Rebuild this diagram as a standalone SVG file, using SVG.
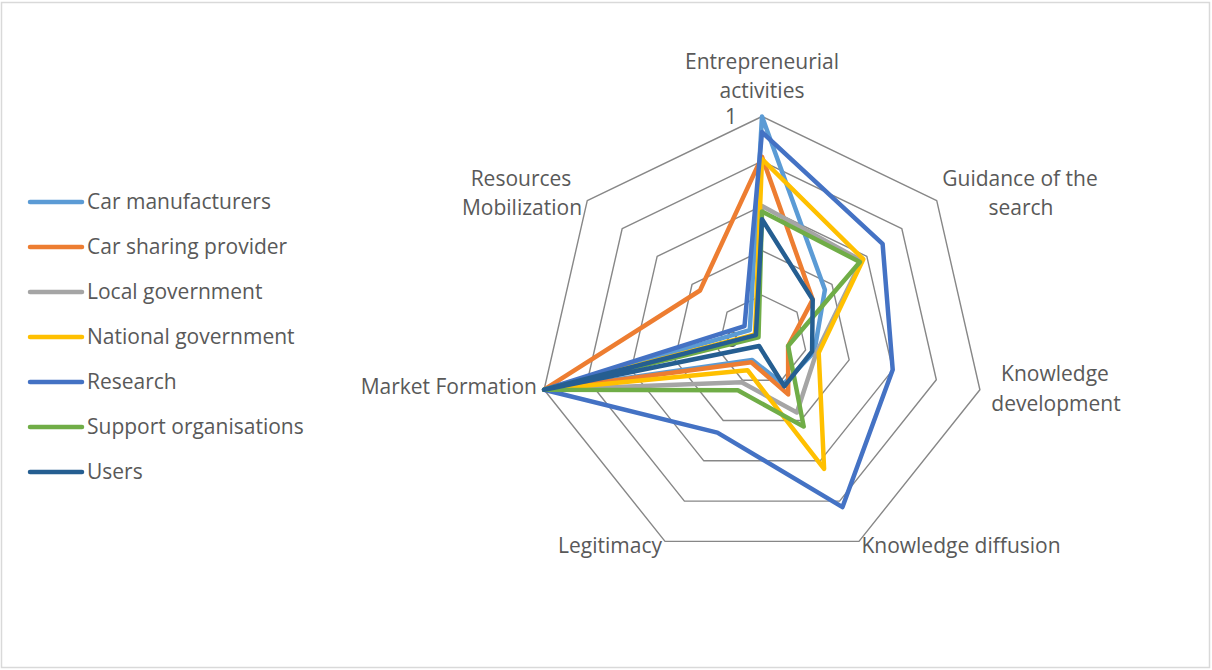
<svg xmlns="http://www.w3.org/2000/svg" width="1212" height="670" viewBox="0 0 1212 670">
<style>
.lbl{font-family:"Open Sans","Noto Sans","Liberation Sans",sans-serif;font-size:21px;fill:#595959}
.mid{text-anchor:middle}
.ring{fill:none;stroke:#878787;stroke-width:1.4;stroke-linejoin:round}
.ser{fill:none;stroke-width:4.5;stroke-linejoin:round;stroke-linecap:round}
.leg{stroke-width:4.5;stroke-linecap:round}
.s1{stroke:#5B9BD5}.s2{stroke:#ED7D31}.s3{stroke:#A5A5A5}.s4{stroke:#FFC000}.s5{stroke:#4472C4}.s6{stroke:#70AD47}.s7{stroke:#255E91}
</style>
<rect x="1.5" y="2.5" width="1208" height="665" fill="#ffffff" stroke="#D9D9D9" stroke-width="1.5"/>
<g id="grid">
<polygon class="ring" points="762,116.5 936.74,200.65 979.9,389.73 858.97,541.37 665.03,541.37 544.1,389.73 587.26,200.65"/>
<polygon class="ring" points="762,161.2 901.79,228.52 936.32,379.78 839.58,501.1 684.42,501.1 587.68,379.78 622.21,228.52"/>
<polygon class="ring" points="762,205.9 866.84,256.39 892.74,369.84 820.18,460.82 703.82,460.82 631.26,369.84 657.16,256.39"/>
<polygon class="ring" points="762,250.6 831.9,284.26 849.16,359.89 800.79,420.55 723.21,420.55 674.84,359.89 692.1,284.26"/>
<polygon class="ring" points="762,295.3 796.95,312.13 805.58,349.95 781.39,380.27 742.61,380.27 718.42,349.95 727.05,312.13"/>
<text class="lbl" x="731" y="124" text-anchor="middle">1</text>
<text class="lbl" x="732" y="347" text-anchor="middle">0</text>
</g>
<g id="axis-labels">
<g id="ax-entrepreneurial"><text class="lbl mid" x="762" y="69">Entrepreneurial</text><text class="lbl mid" x="762" y="98">activities</text></g>
<g id="ax-guidance"><text class="lbl mid" x="1020" y="186">Guidance of the</text><text class="lbl mid" x="1021" y="215">search</text></g>
<g id="ax-kdev"><text class="lbl mid" x="1055" y="381">Knowledge</text><text class="lbl mid" x="1056" y="411">development</text></g>
<g id="ax-kdiff"><text class="lbl mid" x="961" y="553">Knowledge diffusion</text></g>
<g id="ax-legitimacy"><text class="lbl mid" x="610" y="553">Legitimacy</text></g>
<g id="ax-market"><text class="lbl" x="537" y="394" text-anchor="end">Market Formation</text></g>
<g id="ax-resources"><text class="lbl mid" x="521" y="186">Resources</text><text class="lbl mid" x="522" y="215">Mobilization</text></g>
</g>
<g id="connectors">
<polygon id="car-manufacturers" class="ser s1" points="762,116.5 824.9,289.8 814.3,351.9 783.3,384.3 752.3,360.1 544.1,389.7 749.8,330.2"/>
<polygon id="car-sharing-provider" class="ser s2" points="762,156.7 812.7,299.6 788.1,346 788.2,394.4 751.3,362.2 544.1,389.7 700,290.5"/>
<polygon id="local-government" class="ser s3" points="762,205.9 861.6,260.6 816.5,352.4 796.9,412.5 741.6,382.3 544.1,389.7 756.8,335.8"/>
<polygon id="national-government" class="ser s4" points="762,159 863.3,259.2 818.7,352.9 824.1,468.9 747.5,370.2 544.1,389.7 755,334.4"/>
<polygon id="research" class="ser s5" points="762,132.1 882.6,243.8 892.7,369.8 842.5,507.1 717.4,432.6 544.1,389.7 744.5,326.1"/>
<polygon id="support-organisations" class="ser s6" points="762,211.5 859.9,262 788.1,346 803.7,426.6 737.8,390.3 544.1,389.7 758.5,337.2"/>
<polygon id="users" class="ser s7" points="762,219.3 812.7,299.6 812.1,351.4 784.3,386.3 759.1,346 544.1,389.7 755.9,335.1"/>
</g>
<g id="legend">
<g id="leg-1"><line class="leg s1" x1="30" y1="202" x2="82" y2="202"/><text class="lbl" x="87" y="209">Car manufacturers</text></g>
<g id="leg-2"><line class="leg s2" x1="30" y1="247" x2="82" y2="247"/><text class="lbl" x="87" y="254">Car sharing provider</text></g>
<g id="leg-3"><line class="leg s3" x1="30" y1="292" x2="82" y2="292"/><text class="lbl" x="87" y="299">Local government</text></g>
<g id="leg-4"><line class="leg s4" x1="30" y1="337" x2="82" y2="337"/><text class="lbl" x="87" y="344">National government</text></g>
<g id="leg-5"><line class="leg s5" x1="30" y1="382" x2="82" y2="382"/><text class="lbl" x="87" y="389">Research</text></g>
<g id="leg-6"><line class="leg s6" x1="30" y1="427" x2="82" y2="427"/><text class="lbl" x="87" y="434">Support organisations</text></g>
<g id="leg-7"><line class="leg s7" x1="30" y1="472" x2="82" y2="472"/><text class="lbl" x="87" y="479">Users</text></g>
</g>
</svg>
